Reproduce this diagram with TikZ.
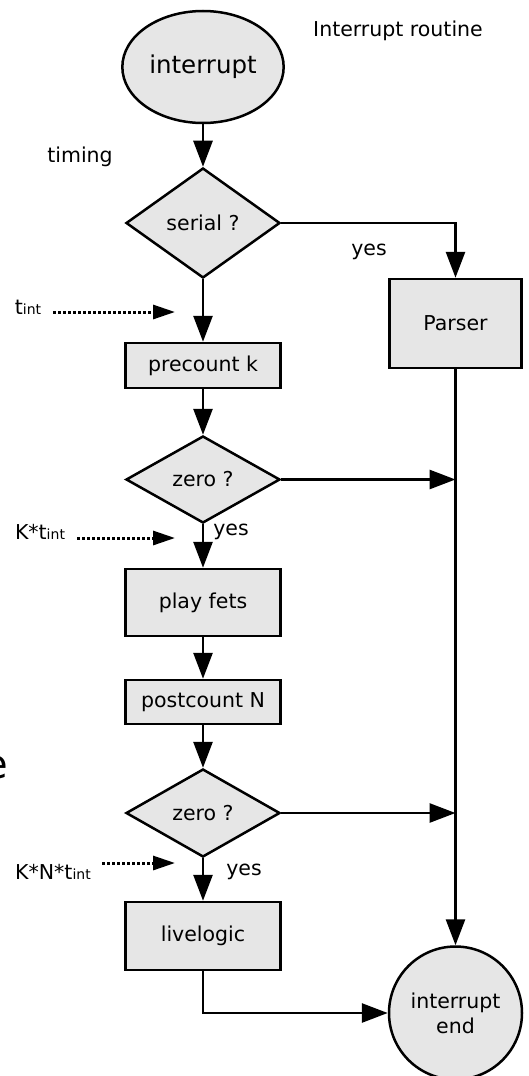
\documentclass[tikz,border=0pt]{standalone}
\usepackage{fontspec}
\setmainfont{DejaVu Sans}
\usetikzlibrary{shapes.geometric,arrows.meta}
\definecolor{boxgray}{HTML}{E6E6E6}
\newcommand\lblfont{\fontsize{20.5}{25}\selectfont}
\newcommand\subint{{\fontsize{14}{14}\selectfont int}}
\begin{document}
\begin{tikzpicture}[x=1pt,y=-1pt,
  every node/.style={font=\lblfont},
  box/.style={draw,fill=boxgray,line width=2.5pt,minimum width=155pt,inner sep=0pt},
  dia/.style={diamond,draw,fill=boxgray,line width=2.5pt,minimum width=154pt,inner sep=0pt},
  conn/.style={line width=2.8pt,-{Triangle[length=26pt,width=19pt]}},
  dotarrow/.style={line width=3pt,dash pattern=on 3pt off 2pt,-{Triangle[length=22pt,width=14pt]}}]
\useasboundingbox (0,0) rectangle (529,1076);
\clip (0,0) rectangle (529,1076);

% nodes
\node[ellipse,draw,fill=boxgray,line width=2.5pt,minimum width=150pt,minimum height=112pt,
      font=\fontsize{24.5}{28}\selectfont] (start) at (203,67) {interrupt};
\node[dia,minimum height=110pt] (serial) at (203,223) {serial ?};
\node[box,minimum width=132pt,minimum height=89pt] (parser) at (455.5,323.5) {Parser};
\node[box,minimum height=45pt] (pre) at (203,365.5) {precount k};
\node[dia,minimum height=87pt] (z1) at (203,479.5) {zero ?};
\node[box,minimum height=67pt] (play) at (203,602.5) {play fets};
\node[box,minimum height=44pt] (post) at (203,702) {postcount N};
\node[dia,minimum height=88pt] (z2) at (203,813) {zero ?};
\node[box,minimum height=68pt] (live) at (203,936) {livelogic};
\node[circle,draw,fill=boxgray,line width=2.5pt,minimum size=133pt,inner sep=0pt,align=center] (end) at (455.5,1013) {interrupt\\end};

% labels
\node (title) at (398,31) {Interrupt routine};
\node (timing) at (80,157) {timing};
\node (yes1) at (369,252) {yes};
\node (yes2) at (231,532) {yes};
\node (yes3) at (244,872) {yes};
\node (ti1) at (28,307) {t\subint};
\node (ti2) at (40,532) {K*t\subint};
\node (ti3) at (53,872) {K*N*t\subint};
\node[anchor=east,inner sep=0pt,font=\fontsize{40}{40}\selectfont] (frag) at (8,768) {e};

% dotted timing arrows
\coordinate (d1s) at (53,312);  \coordinate (d1e) at (175,312);
\coordinate (d2s) at (77,538);  \coordinate (d2e) at (175,538);
\coordinate (d3s) at (102,863); \coordinate (d3e) at (175,863);
\draw[dotarrow] (d1s) -- (d1e);
\draw[dotarrow] (d2s) -- (d2e);
\draw[dotarrow] (d3s) -- (d3e);

% connectors
\draw[conn] (start) -- (serial);
\draw[conn] (serial.east) -| (parser.north);
\draw[conn] (serial) -- (pre);
\draw[conn] (pre) -- (z1);
\draw[conn] (z1.east) -- (z1.east -| parser.south);
\draw[conn] (z1) -- (play);
\draw[conn] (play) -- (post);
\draw[conn] (post) -- (z2);
\draw[conn] (z2.east) -- (z2.east -| parser.south);
\draw[conn] (z2) -- (live);
\draw[conn] (parser) -- (end);
\draw[conn] (live.south) |- (end.west);
\end{tikzpicture}
\end{document}
